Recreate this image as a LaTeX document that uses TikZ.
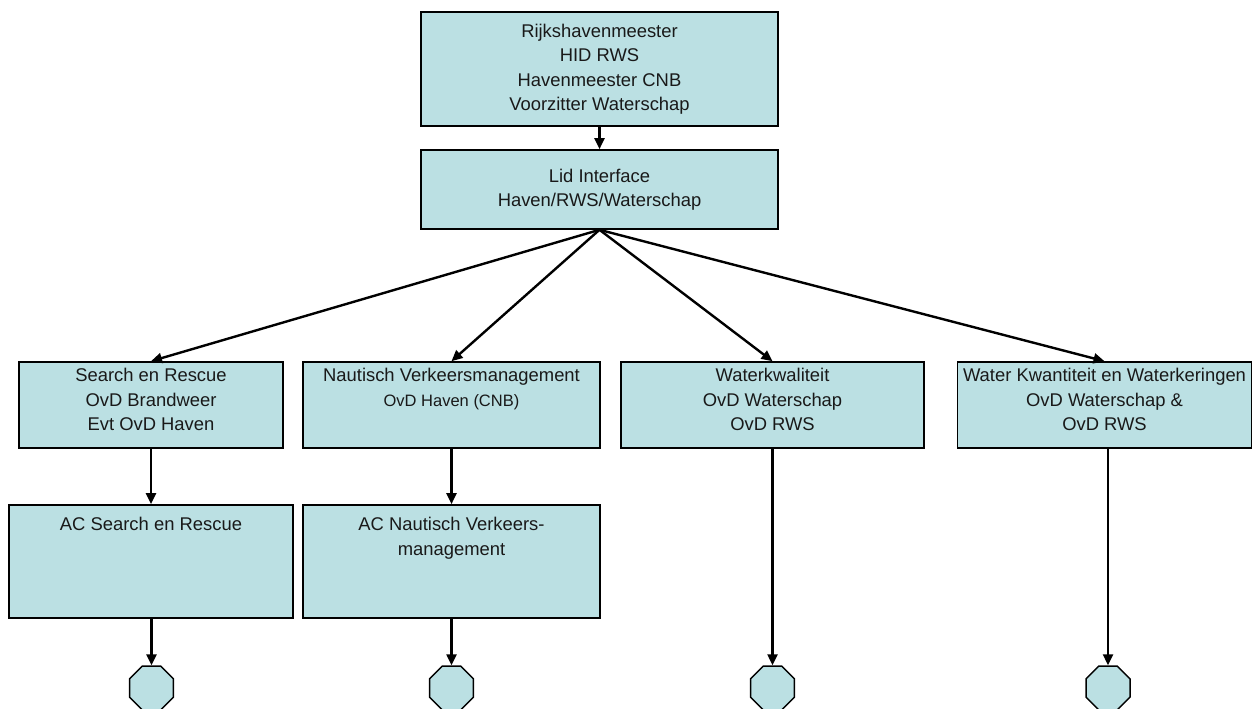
\documentclass[tikz,border=0pt]{standalone}
\usepackage{fontspec}
\setmainfont{Liberation Sans}
\usetikzlibrary{arrows.meta,shapes.geometric}
\definecolor{boxfill}{RGB}{187,224,227}
\tikzset{
  box/.style={draw=black, line width=1.6pt, fill=boxfill, inner sep=0pt},
  txt/.style={align=center, inner sep=0pt, font=\fontsize{18.4}{24.5}\selectfont, text=black!90},
  conn/.style={draw=black, line width=2.4pt, -{Triangle[length=11pt,width=10pt]}},
  offpage/.style={draw=black, line width=1.5pt, fill=boxfill, regular polygon, regular polygon sides=8, minimum size=47.6pt, inner sep=0pt}
}
\begin{document}
\begin{tikzpicture}[x=1pt,y=-1pt]
\useasboundingbox (0,0) rectangle (1258,709);
% boxes
\node[box, minimum width=357pt, minimum height=114pt] (top) at (599.5,69) {};
\node[txt] (toptxt) at (top.center) {Rijkshavenmeester\\HID RWS\\Havenmeester CNB\\Voorzitter Waterschap};
\node[box, minimum width=357pt, minimum height=79pt] (lid) at (599.5,189.5) {};
\node[txt] (lidtxt) at (lid.center) {Lid Interface\\Haven/RWS/Waterschap};

\node[box, minimum width=264pt, minimum height=86pt] (sr) at (151,405) {};
\node[txt, anchor=north] (srtxt) at ([yshift=-7pt]sr.north) {Search en Rescue\\OvD Brandweer\\Evt OvD Haven};
\node[box, minimum width=297pt, minimum height=86pt] (nvm) at (451.5,405) {};
\node[txt, anchor=north] (nvmtxt) at ([yshift=-7pt]nvm.north) {Nautisch Verkeersmanagement\\{\fontsize{16.5}{24.5}\selectfont OvD Haven (CNB)}};
\node[box, minimum width=303pt, minimum height=86pt] (wk) at (772.5,405) {};
\node[txt, anchor=north] (wktxt) at ([yshift=-7pt]wk.north) {Waterkwaliteit\\OvD Waterschap\\OvD RWS};
\node[box, minimum width=294pt, minimum height=86pt] (wq) at (1104.5,405) {};
\node[txt, anchor=north] (wqtxt) at ([yshift=-7pt]wq.north) {Water Kwantiteit en Waterkeringen\\OvD Waterschap \&\\OvD RWS};

\node[box, minimum width=284pt, minimum height=113pt] (acsr) at (151,561.5) {};
\node[txt, anchor=north] (acsrtxt) at ([yshift=-13pt]acsr.north) {AC Search en Rescue};
\node[box, minimum width=297pt, minimum height=113pt] (acnvm) at (451.5,561.5) {};
\node[txt, anchor=north] (acnvmtxt) at ([yshift=-13pt]acnvm.north) {AC Nautisch Verkeers-\\management};

% off-page connectors
\node[offpage] (c1) at (151.5,688) {};
\node[offpage] (c2) at (451.5,688) {};
\node[offpage] (c3) at (772.5,688) {};
\node[offpage] (c4) at (1108,688) {};

% connectors
\draw[conn] (top.south) -- (lid.north);
\draw[conn] (lid.south) -- (sr.north);
\draw[conn] (lid.south) -- (nvm.north);
\draw[conn] (lid.south) -- (wk.north);
\draw[conn] (lid.south) -- (wq.north);
\draw[conn] (sr.south) -- (acsr.north);
\draw[conn] (nvm.south) -- (acnvm.north);
\draw[conn] (acsr.south -| c1.north) -- (c1.north);
\draw[conn] (acnvm.south) -- (c2.north);
\draw[conn] (wk.south) -- (c3.north);
\draw[conn] (wq.south -| c4.north) -- (c4.north);
\end{tikzpicture}
\end{document}
